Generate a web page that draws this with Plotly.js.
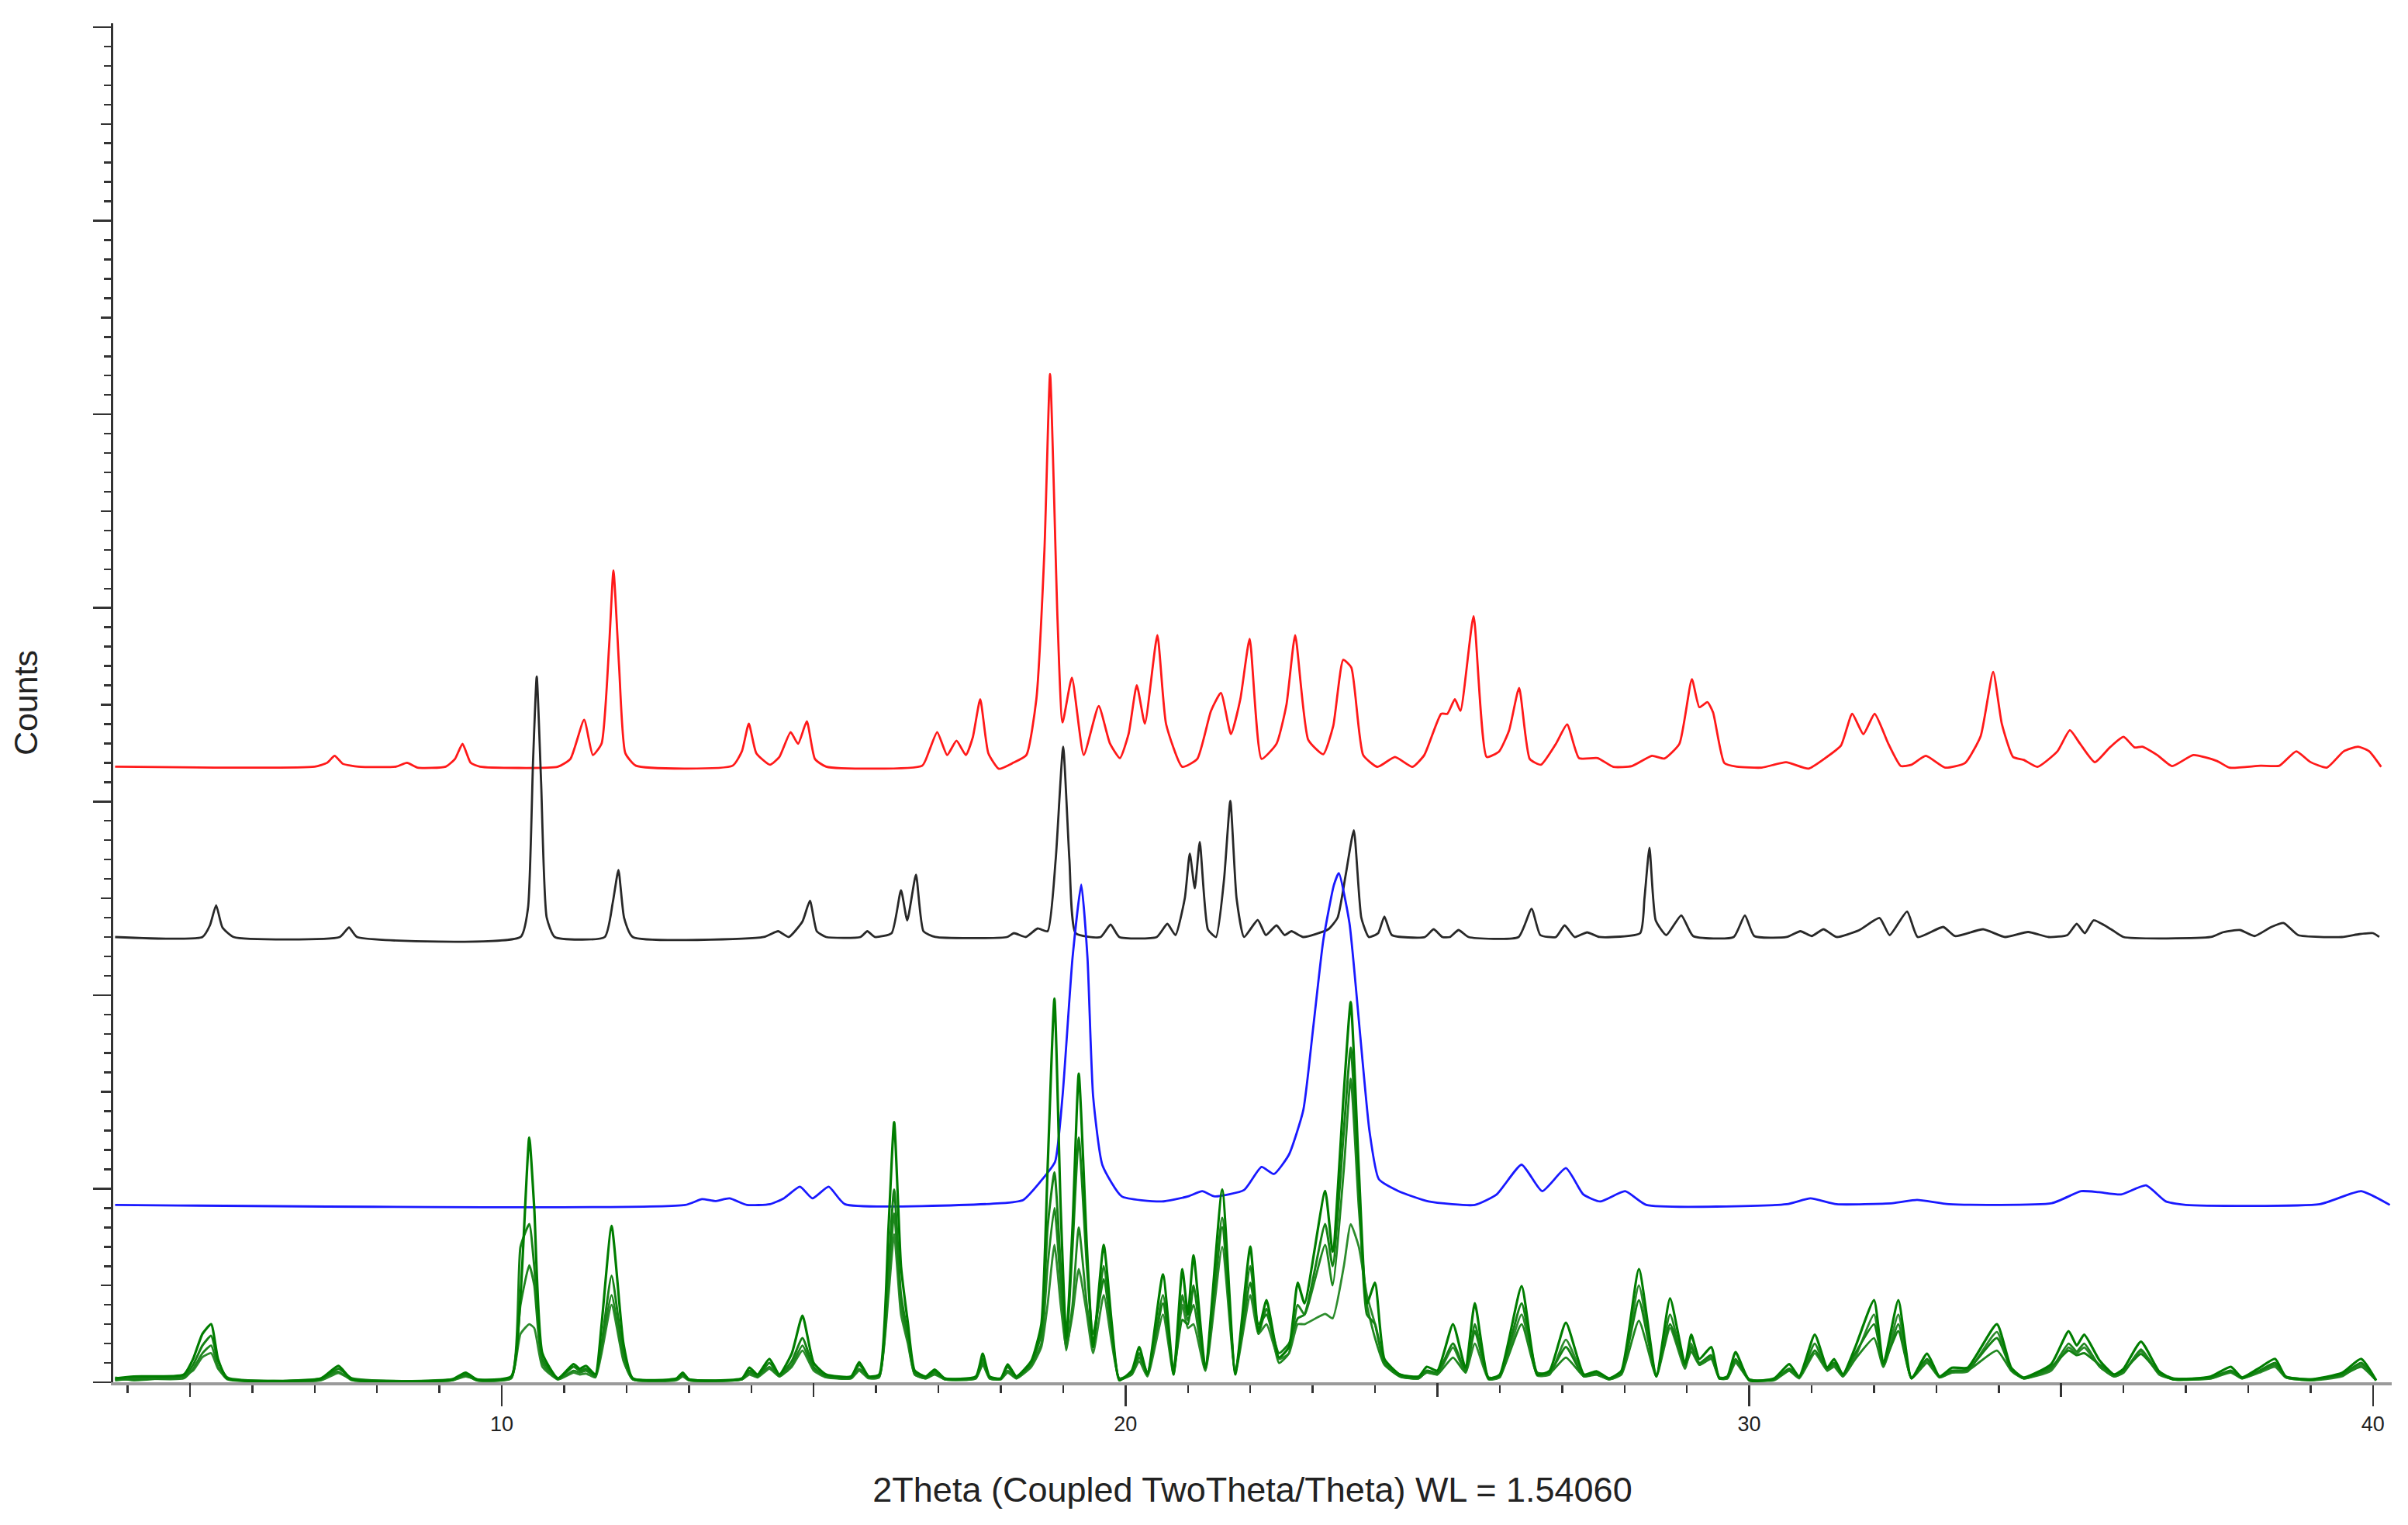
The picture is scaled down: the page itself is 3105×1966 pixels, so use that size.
<!DOCTYPE html>
<html>
<head>
<meta charset="utf-8">
<script src="https://cdn.plot.ly/plotly-3.0.1.min.js"></script>
<style>
  html, body { margin: 0; padding: 0; background: #fff; }
  #chart { width: 3105px; height: 1966px; }
</style>
</head>
<body>
<div id="chart"></div>
<script>
// tick positions
var xMajor = [10, 20, 30, 40];
var xMid = [5, 15, 25, 35];
var yMid = [500, 1500, 2500, 3500, 4500, 5500, 6500];

// red pattern (top)
var rx = [3.8, 7.0, 7.2, 7.32, 7.45, 7.7, 8.3, 8.48, 8.65, 9.1,
  9.25, 9.37, 9.5, 9.65, 10.9, 11.1, 11.32, 11.46, 11.6, 11.72,
  11.79, 11.88, 11.98, 12.15, 13.7, 13.85, 13.96, 14.08, 14.3, 14.45,
  14.63, 14.75, 14.89, 15.02, 15.2, 16.74, 16.85, 16.98, 17.14, 17.29,
  17.44, 17.55, 17.67, 17.8, 17.97, 18.2, 18.41, 18.57, 18.7, 18.79,
  18.91, 18.99, 19.14, 19.33, 19.57, 19.75, 19.91, 20.05, 20.18, 20.31,
  20.51, 20.65, 20.91, 21.15, 21.37, 21.53, 21.69, 21.84, 21.99, 22.18,
  22.42, 22.58, 22.72, 22.93, 23.17, 23.33, 23.49, 23.62, 23.81, 24.04,
  24.32, 24.6, 24.79, 25.06, 25.16, 25.28, 25.37, 25.58, 25.79, 25.99,
  26.15, 26.31, 26.48, 26.66, 26.9, 27.08, 27.27, 27.57, 27.82, 28.12,
  28.44, 28.64, 28.88, 29.08, 29.2, 29.33, 29.42, 29.6, 29.8, 30.2,
  30.59, 30.95, 31.2, 31.47, 31.65, 31.83, 32.01, 32.23, 32.43, 32.6,
  32.83, 33.14, 33.46, 33.71, 33.91, 34.05, 34.23, 34.4, 34.62, 34.94,
  35.14, 35.3, 35.54, 35.78, 36.0, 36.18, 36.3, 36.54, 36.78, 37.12,
  37.5, 37.7, 38.2, 38.5, 38.77, 38.99, 39.26, 39.53, 39.76, 39.94,
  40.13];
var ry = [3180, 3180, 3200, 3236, 3195, 3180, 3180, 3200, 3175, 3180,
  3220, 3298, 3200, 3180, 3180, 3220, 3422, 3240, 3300, 3800,
  4194, 3700, 3250, 3185, 3185, 3260, 3402, 3250, 3190, 3230,
  3358, 3298, 3414, 3220, 3180, 3185, 3260, 3358, 3240, 3314,
  3240, 3330, 3528, 3250, 3169, 3200, 3240, 3528, 4300, 5208,
  3936, 3408, 3640, 3240, 3493, 3300, 3224, 3350, 3601, 3402,
  3859, 3400, 3179, 3220, 3468, 3561, 3348, 3528, 3840, 3220,
  3298, 3500, 3859, 3318, 3244, 3390, 3732, 3692, 3240, 3179,
  3230, 3179, 3240, 3453, 3453, 3528, 3468, 3957, 3230, 3259,
  3368, 3587, 3220, 3190, 3298, 3398, 3224, 3224, 3179, 3183,
  3236, 3222, 3298, 3632, 3487, 3513, 3460, 3199, 3180, 3175,
  3203, 3170, 3220, 3289, 3453, 3348, 3453, 3298, 3183, 3190,
  3236, 3175, 3199, 3338, 3670, 3400, 3230, 3215, 3179, 3259,
  3368, 3300, 3203, 3279, 3334, 3279, 3283, 3240, 3183, 3240,
  3209, 3175, 3185, 3185, 3259, 3205, 3175, 3259, 3283, 3259,
  3179];

// black pattern
var kx = [3.8, 5.2, 5.32, 5.42, 5.52, 5.7, 7.4, 7.55, 7.68, 10.3,
  10.42, 10.5, 10.56, 10.63, 10.72, 10.85, 11.65, 11.78, 11.87, 11.96,
  12.1, 14.2, 14.43, 14.6, 14.82, 14.94, 15.05, 15.2, 15.75, 15.86,
  15.98, 16.25, 16.4, 16.5, 16.64, 16.76, 16.95, 18.1, 18.21, 18.4,
  18.59, 18.75, 18.88, 19.0, 19.1, 19.2, 19.6, 19.76, 19.9, 20.5,
  20.67, 20.8, 20.95, 21.03, 21.11, 21.19, 21.32, 21.45, 21.58, 21.68,
  21.78, 21.9, 22.12, 22.25, 22.42, 22.55, 22.66, 22.85, 23.25, 23.4,
  23.53, 23.66, 23.78, 23.9, 24.05, 24.15, 24.27, 24.8, 24.94, 25.08,
  25.2, 25.34, 25.5, 26.3, 26.51, 26.65, 26.9, 27.04, 27.2, 27.4,
  27.6, 28.25, 28.32, 28.4, 28.5, 28.67, 28.91, 29.1, 29.75, 29.93,
  30.08, 30.6, 30.82, 31.0, 31.19, 31.4, 31.76, 32.09, 32.25, 32.53,
  32.7, 33.11, 33.3, 33.75, 34.1, 34.47, 34.8, 35.1, 35.25, 35.38,
  35.52, 35.8, 36.0, 37.4, 37.6, 37.87, 38.1, 38.37, 38.57, 38.8,
  39.5, 39.78, 40.0, 40.1];
var ky = [2300, 2300, 2360, 2464, 2350, 2300, 2300, 2349, 2300, 2300,
  2450, 3200, 3646, 3100, 2400, 2300, 2300, 2480, 2646, 2400,
  2300, 2300, 2330, 2300, 2380, 2488, 2330, 2300, 2300, 2330,
  2300, 2320, 2542, 2386, 2622, 2330, 2300, 2300, 2320, 2300,
  2344, 2330, 2700, 3283, 2700, 2320, 2300, 2364, 2300, 2300,
  2368, 2310, 2500, 2731, 2552, 2791, 2340, 2300, 2600, 3004,
  2500, 2300, 2388, 2310, 2360, 2310, 2330, 2300, 2340, 2400,
  2622, 2851, 2400, 2300, 2320, 2406, 2310, 2300, 2340, 2300,
  2300, 2336, 2300, 2300, 2446, 2310, 2300, 2360, 2300, 2324,
  2300, 2320, 2500, 2761, 2386, 2310, 2412, 2305, 2300, 2412,
  2305, 2300, 2330, 2305, 2340, 2300, 2335, 2398, 2310, 2432,
  2300, 2352, 2305, 2340, 2300, 2326, 2300, 2310, 2368, 2320,
  2386, 2340, 2300, 2300, 2325, 2336, 2305, 2352, 2372, 2310,
  2300, 2315, 2320, 2300];

// blue pattern
var bx = [3.8, 12.94, 13.21, 13.42, 13.65, 13.93, 14.3, 14.52, 14.78, 14.98,
  15.24, 15.5, 18.0, 18.36, 18.67, 18.87, 18.99, 19.15, 19.29, 19.39,
  19.48, 19.63, 19.94, 20.58, 21.0, 21.23, 21.43, 21.9, 22.18, 22.38,
  22.62, 22.85, 23.01, 23.17, 23.34, 23.42, 23.59, 23.75, 23.91, 24.06,
  24.38, 24.86, 25.6, 25.95, 26.35, 26.68, 27.06, 27.34, 27.61, 28.01,
  28.35, 30.6, 30.98, 31.4, 32.3, 32.69, 33.2, 34.85, 35.32, 35.6,
  35.96, 36.36, 36.68, 37.0, 39.15, 39.81, 40.27];
var by = [916, 916, 946, 936, 950, 916, 920, 950, 1010, 950,
  1010, 920, 925, 942, 1050, 1139, 1478, 2192, 2571, 2192,
  1478, 1121, 960, 934, 960, 987, 960, 993, 1112, 1076,
  1176, 1406, 1836, 2282, 2568, 2630, 2372, 1836, 1300, 1050,
  987, 934, 916, 970, 1124, 987, 1106, 970, 934, 987,
  916, 920, 950, 920, 925, 942, 920, 925, 987, 982,
  970, 1017, 934, 916, 920, 987, 916];

// green patterns (bottom, several repeats on one grid)
var gx = [3.8, 4.1, 4.9, 5.05, 5.2, 5.34, 5.45, 5.6, 7.1, 7.38,
  7.6, 9.2, 9.42, 9.6, 10.15, 10.3, 10.44, 10.52, 10.65, 10.9,
  11.15, 11.25, 11.35, 11.5, 11.6, 11.76, 11.95, 12.1, 12.8, 12.9,
  13.0, 13.85, 13.97, 14.1, 14.29, 14.45, 14.65, 14.82, 15.0, 15.2,
  15.6, 15.73, 15.88, 16.05, 16.2, 16.29, 16.4, 16.51, 16.62, 16.8,
  16.94, 17.1, 17.6, 17.71, 17.82, 18.0, 18.11, 18.25, 18.49, 18.65,
  18.75, 18.86, 18.96, 19.05, 19.15, 19.25, 19.38, 19.48, 19.65, 19.78,
  19.9, 20.1, 20.22, 20.35, 20.6, 20.77, 20.91, 21.0, 21.09, 21.28,
  21.55, 21.76, 22.0, 22.13, 22.26, 22.46, 22.62, 22.76, 22.87, 23.2,
  23.32, 23.5, 23.61, 23.74, 23.87, 24.0, 24.15, 24.4, 24.7, 24.83,
  25.0, 25.25, 25.45, 25.6, 25.82, 26.0, 26.35, 26.6, 26.8, 27.06,
  27.35, 27.55, 27.75, 27.95, 28.23, 28.51, 28.73, 28.97, 29.07, 29.2,
  29.39, 29.52, 29.65, 29.78, 30.0, 30.4, 30.64, 30.8, 31.05, 31.25,
  31.36, 31.5, 31.7, 32.0, 32.15, 32.39, 32.6, 32.85, 33.05, 33.25,
  33.5, 33.97, 34.2, 34.4, 34.84, 35.12, 35.25, 35.37, 35.62, 35.85,
  36.0, 36.28, 36.57, 36.8, 37.4, 37.72, 37.9, 38.18, 38.43, 38.6,
  39.0, 39.5, 39.81, 40.05];
var g1 = [20, 30, 40, 120, 250, 300, 120, 20, 20, 85,
  15, 15, 50, 15, 30, 450, 1264, 900, 150, 20,
  94, 70, 85, 40, 300, 808, 200, 20, 20, 50,
  15, 20, 76, 40, 121, 40, 150, 344, 100, 40,
  30, 104, 30, 40, 800, 1344, 600, 308, 60, 30,
  66, 20, 30, 148, 30, 20, 93, 30, 111, 300,
  1100, 1982, 900, 228, 800, 1594, 700, 182, 710, 300,
  10, 60, 182, 40, 558, 40, 585, 350, 656, 75,
  996, 40, 701, 264, 424, 128, 182, 514, 408, 988,
  675, 1500, 1964, 1100, 408, 514, 120, 40, 30, 80,
  60, 300, 75, 408, 20, 40, 496, 40, 60, 308,
  40, 57, 20, 60, 585, 30, 433, 94, 246, 120,
  182, 20, 30, 156, 10, 20, 94, 30, 246, 75,
  120, 40, 182, 424, 94, 424, 20, 148, 30, 75,
  75, 300, 75, 25, 94, 264, 190, 246, 111, 40,
  70, 210, 57, 15, 30, 80, 25, 75, 121, 30,
  15, 48, 121, 10];
var g2 = [15, 15, 30, 90, 190, 240, 110, 25, 15, 70,
  20, 10, 40, 10, 25, 700, 817, 600, 120, 20,
  80, 60, 70, 30, 200, 550, 150, 20, 15, 40,
  15, 15, 60, 30, 100, 35, 110, 228, 80, 30,
  25, 90, 30, 30, 600, 996, 450, 250, 50, 25,
  55, 20, 25, 120, 25, 20, 80, 25, 100, 250,
  800, 1085, 600, 200, 700, 1264, 600, 250, 532, 250,
  20, 50, 150, 50, 408, 60, 323, 300, 500, 80,
  800, 60, 514, 300, 350, 150, 200, 330, 350, 817,
  600, 1300, 1728, 1000, 350, 300, 100, 30, 20, 60,
  50, 200, 60, 264, 25, 30, 408, 50, 50, 182,
  30, 50, 20, 50, 424, 40, 300, 90, 180, 100,
  140, 25, 25, 120, 15, 15, 70, 30, 164, 70,
  100, 40, 150, 300, 100, 264, 25, 120, 30, 60,
  65, 228, 70, 20, 80, 164, 140, 150, 90, 40,
  60, 146, 50, 20, 25, 60, 25, 60, 100, 30,
  15, 40, 100, 10];
var g3 = [10, 20, 20, 70, 150, 190, 80, 15, 20, 55,
  10, 15, 35, 10, 20, 400, 604, 500, 100, 15,
  60, 50, 60, 30, 180, 450, 120, 15, 15, 35,
  10, 15, 50, 30, 80, 30, 90, 190, 70, 30,
  20, 70, 25, 30, 500, 872, 400, 220, 40, 20,
  45, 15, 20, 100, 20, 15, 60, 20, 90, 200,
  600, 900, 500, 164, 400, 800, 400, 200, 600, 250,
  15, 40, 130, 40, 450, 50, 450, 320, 400, 60,
  850, 50, 600, 250, 380, 100, 150, 400, 350, 710,
  500, 1100, 1568, 900, 400, 228, 90, 30, 20, 55,
  40, 128, 50, 300, 20, 30, 300, 40, 45, 128,
  30, 40, 15, 40, 318, 30, 350, 80, 160, 90,
  120, 20, 20, 110, 10, 15, 60, 25, 200, 60,
  90, 30, 120, 228, 80, 300, 20, 100, 25, 55,
  60, 164, 60, 20, 70, 200, 160, 200, 80, 30,
  50, 170, 45, 15, 20, 55, 20, 55, 90, 25,
  10, 35, 80, 10];
var g4 = [25, 10, 35, 60, 130, 150, 70, 20, 10, 48,
  15, 10, 30, 15, 20, 250, 300, 280, 80, 15,
  50, 40, 45, 25, 150, 400, 110, 15, 10, 30,
  10, 15, 40, 25, 70, 30, 80, 164, 60, 25,
  20, 60, 20, 25, 450, 764, 350, 200, 40, 20,
  40, 15, 20, 90, 20, 15, 50, 20, 80, 182,
  400, 710, 400, 180, 350, 585, 350, 150, 450, 200,
  20, 40, 110, 30, 350, 40, 400, 280, 300, 60,
  700, 50, 450, 250, 300, 120, 150, 300, 300, 353,
  330, 600, 817, 700, 450, 300, 100, 40, 25, 50,
  40, 180, 50, 200, 15, 25, 350, 35, 40, 220,
  35, 40, 15, 45, 500, 30, 280, 70, 200, 90,
  130, 20, 20, 100, 15, 10, 60, 20, 150, 60,
  80, 30, 130, 350, 80, 350, 20, 110, 25, 50,
  55, 260, 60, 20, 60, 180, 150, 180, 80, 30,
  50, 160, 40, 15, 20, 50, 20, 50, 80, 25,
  10, 30, 90, 10];

var xRange = [3.77, 40.3];
var yRange = [0, 7020];
var tickCol = '#333333';

function line(x, y, color, width) {
  return {x: x, y: y, type: 'scatter', mode: 'lines',
    line: {color: color, width: width, shape: 'spline', smoothing: 0.5},
    hoverinfo: 'skip'};
}

var data = [
  line(rx, ry, 'rgb(255,25,25)', 2.8),
  line(kx, ky, 'rgb(40,40,40)', 2.8),
  line(bx, by, 'rgb(25,25,255)', 2.8),
  line(gx, g4, 'rgb(45,140,45)', 2.8),
  line(gx, g3, 'rgb(30,135,30)', 2.8),
  line(gx, g2, 'rgb(20,130,20)', 3),
  line(gx, g1, 'rgb(0,125,0)', 3.2),
  // holder for the mid-length ticks
  {x: [], y: [], xaxis: 'x2', yaxis: 'y2', type: 'scatter', mode: 'lines', hoverinfo: 'skip'}
];

var layout = {
  width: 3105,
  height: 1966,
  margin: {l: 146, r: 21, t: 30, b: 184},
  paper_bgcolor: '#ffffff',
  plot_bgcolor: '#ffffff',
  showlegend: false,
  font: {family: 'Liberation Sans, Arial, sans-serif', color: '#222222'},
  xaxis: {
    range: xRange,
    tickmode: 'array',
    tickvals: xMajor,
    ticks: 'outside',
    ticklen: 27,
    tickwidth: 2.5,
    tickcolor: tickCol,
    tickfont: {size: 27, color: '#222222'},
    showline: true,
    linecolor: '#9a9a9a',
    linewidth: 4,
    showgrid: false,
    zeroline: false,
    layer: 'below traces',
    minor: {tickmode: 'linear', tick0: 0, dtick: 1, ticks: 'outside',
      ticklen: 10, tickwidth: 2.5, tickcolor: tickCol, showgrid: false},
    title: {text: '2Theta (Coupled TwoTheta/Theta) WL = 1.54060',
      font: {size: 45, color: '#222222'}, standoff: 55}
  },
  yaxis: {
    range: yRange,
    tickmode: 'linear',
    tick0: 0,
    dtick: 1000,
    ticks: 'outside',
    ticklen: 23,
    tickwidth: 2.5,
    tickcolor: tickCol,
    showticklabels: false,
    showline: true,
    linecolor: '#333333',
    linewidth: 3,
    showgrid: false,
    zeroline: false,
    minor: {tickmode: 'linear', tick0: 0, dtick: 100, ticks: 'outside',
      ticklen: 9, tickwidth: 2.5, tickcolor: tickCol, showgrid: false},
    title: {text: 'Counts', font: {size: 43, color: '#222222'}, standoff: 58}
  },
  xaxis2: {
    overlaying: 'x', anchor: 'y2', side: 'bottom',
    range: xRange, tickmode: 'array', tickvals: xMid,
    ticks: 'outside', ticklen: 18, tickwidth: 2.5, tickcolor: tickCol,
    showticklabels: false, showline: false, showgrid: false, zeroline: false
  },
  yaxis2: {
    overlaying: 'y', anchor: 'x2', side: 'left',
    range: yRange, tickmode: 'array', tickvals: yMid,
    ticks: 'outside', ticklen: 15, tickwidth: 2.5, tickcolor: tickCol,
    showticklabels: false, showline: false, showgrid: false, zeroline: false
  }
};

Plotly.newPlot('chart', data, layout, {staticPlot: true, displayModeBar: false});
</script>
</body>
</html>
